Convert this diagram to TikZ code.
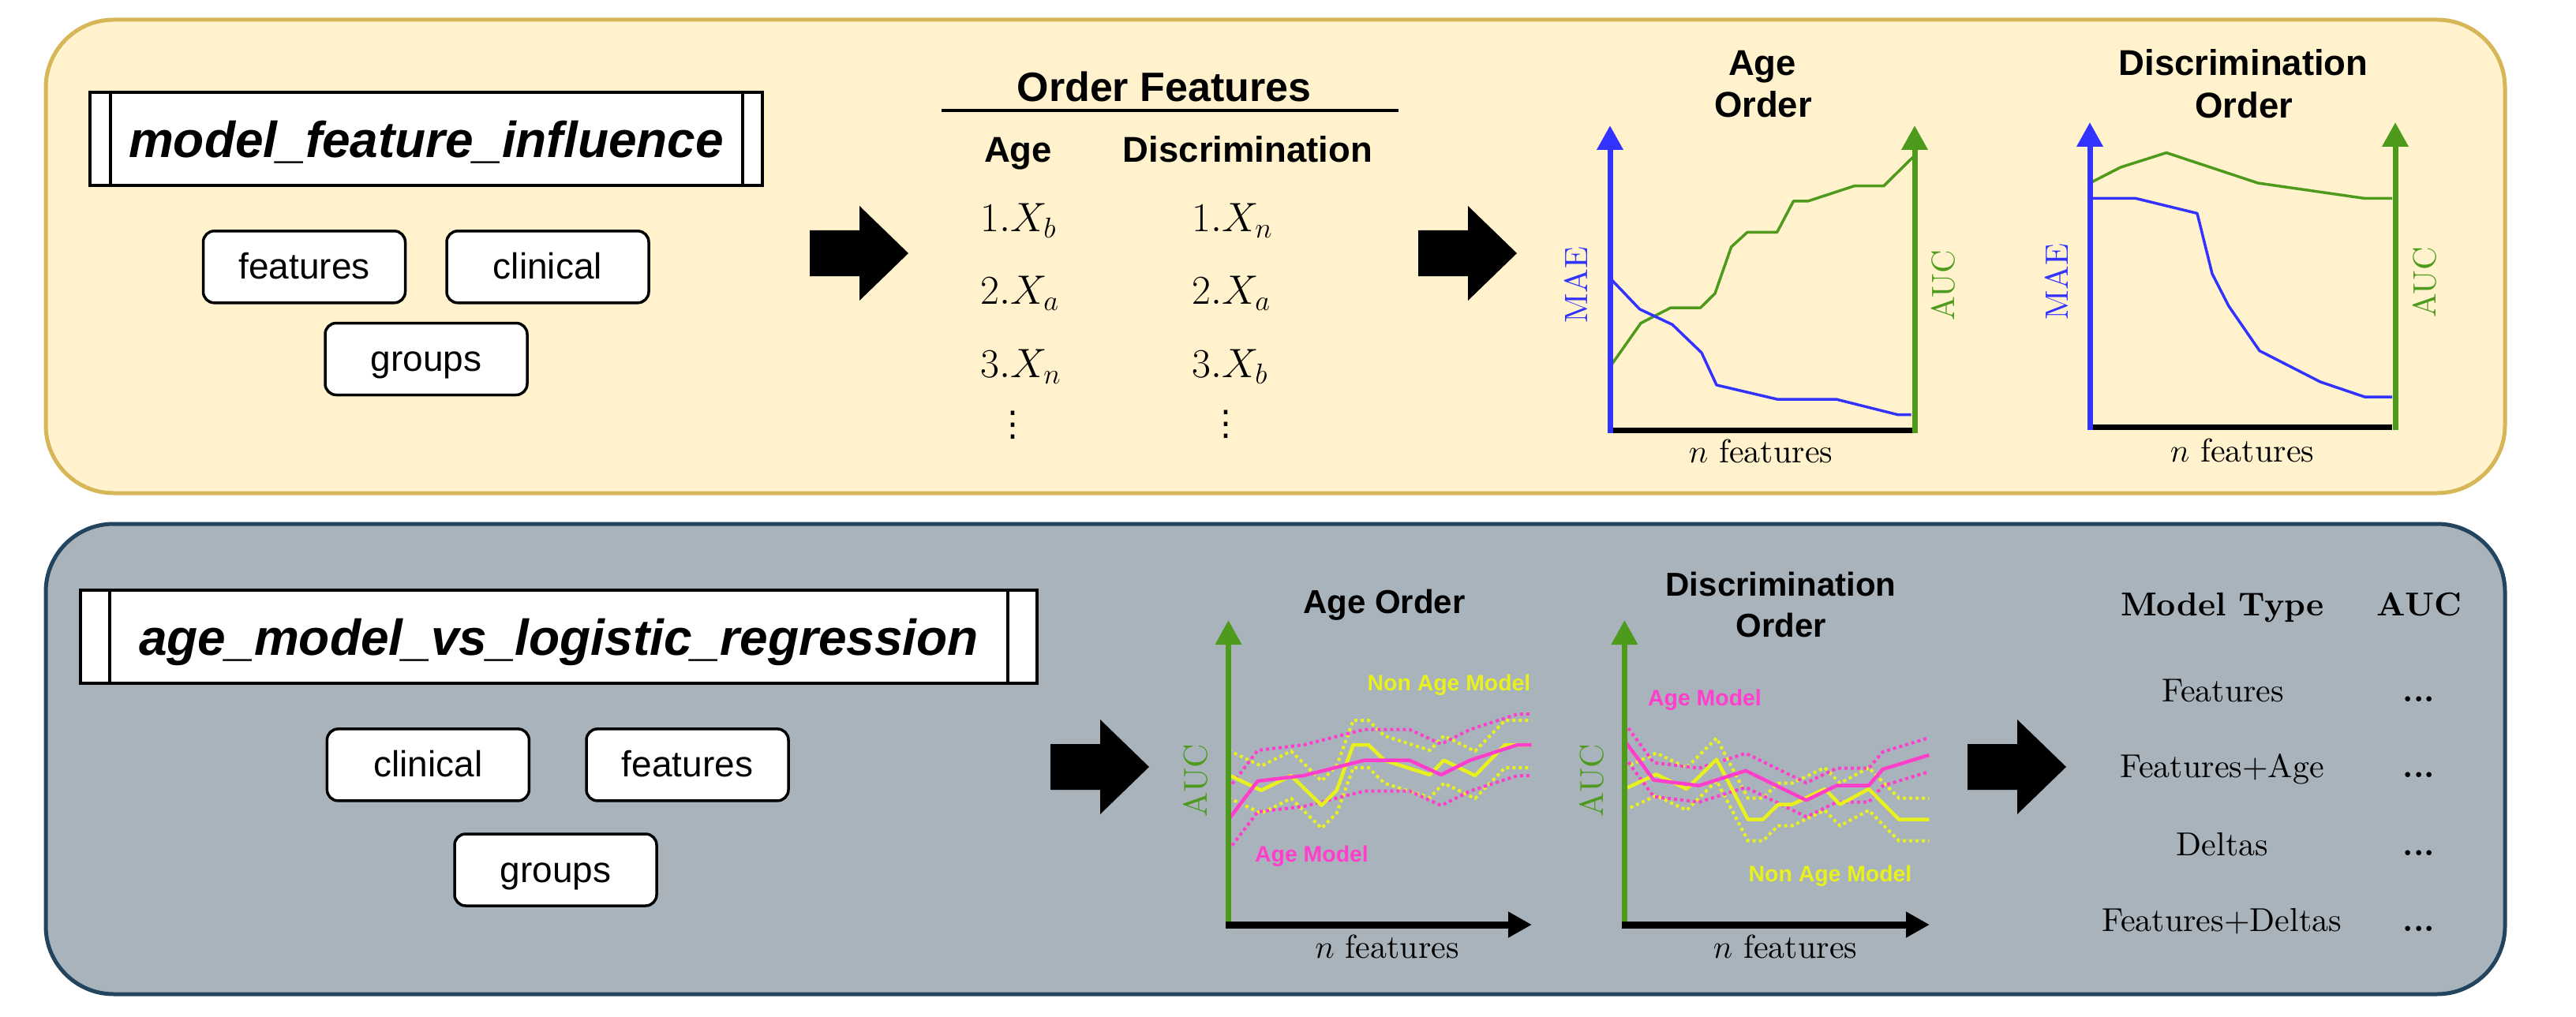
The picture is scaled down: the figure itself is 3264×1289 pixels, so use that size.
\documentclass[tikz,border=0pt]{standalone}
\usepackage{fix-cm}
\usepackage{fontspec}
\setmainfont{lmroman10-regular.otf}[BoldFont=lmroman10-bold.otf, ItalicFont=lmroman10-italic.otf, BoldItalicFont=lmroman10-bolditalic.otf]
\newfontfamily\arial{Liberation Sans}
\newfontfamily\djv{DejaVu Sans}
\usetikzlibrary{arrows.meta}
\definecolor{topfill}{HTML}{FFF2CC}
\definecolor{topdraw}{HTML}{D6B656}
\definecolor{botfill}{HTML}{A8B3BC}
\definecolor{botdraw}{HTML}{23445D}
\definecolor{cblue}{HTML}{3333FF}
\definecolor{cgreen}{HTML}{4D9A1C}
\definecolor{cyel}{HTML}{E8F01E}
\definecolor{cpink}{HTML}{FF3FCC}
\newcommand\myfs[1]{\fontsize{#1}{#1}\selectfont}
\newcommand\blkarrow[2]{%
  \fill[black] (#1,#2-29) -- (#1+63,#2-29) -- (#1+63,#2-60) -- (#1+125,#2)
    -- (#1+63,#2+60) -- (#1+63,#2+29) -- (#1,#2+29) -- cycle;}
\tikzset{
  panel/.style={rounded corners=86pt, line width=5pt},
  procbox/.style={draw, line width=4pt, fill=white, minimum height=118pt,
    inner sep=0pt, text depth=2pt, font=\arial\bfseries\itshape\myfs{64}},
  inbox/.style={draw, line width=3.5pt, fill=white, rounded corners=14pt,
    minimum width=256pt, minimum height=91pt, inner sep=0pt,
    text height=33pt, text depth=2pt, font=\arial\myfs{46}},
  sansb/.style={font=\arial\bfseries\myfs{#1}, anchor=base, inner sep=0pt},
  serif/.style={font=\myfs{#1}, anchor=base, inner sep=0pt},
  mathrow/.style={font=\myfs{52}, anchor=base west, inner sep=0pt},
  vlabel/.style={rotate=90, font=\myfs{41}, inner sep=0pt},
  axisup/.style={line width=7pt, -{Triangle[width=32pt,length=31pt]}},
  axisright/.style={line width=9pt, -{Triangle[width=31pt,length=30pt]}},
  curve/.style={line width=3.5pt, line join=round},
  dotc/.style={line width=4pt, dash pattern=on 4pt off 4pt},
  solidc/.style={line width=4.5pt, line join=round},
  vdotsn/.style={font=\djv\myfs{44}, inner sep=0pt},
  legend/.style={font=\arial\bfseries\myfs{28.4}, inner sep=0pt}
}
\begin{document}
\begin{tikzpicture}[x=1pt,y=-1pt]
\useasboundingbox (0,0) rectangle (3264,1289);

% ---------- panels ----------
\draw[panel, draw=topdraw, fill=topfill] (58,25) rectangle (3174,625);
\draw[panel, draw=botdraw, fill=botfill] (58,664) rectangle (3174,1260);

% ---------- top panel: left ----------
\node[procbox, minimum width=852pt, text height=50pt] (mfi) at (540,176) {model\_feature\_influence};
\draw[line width=4pt] ([xshift=28pt]mfi.north west) -- ([xshift=28pt]mfi.south west);
\draw[line width=4pt] ([xshift=-27pt]mfi.north east) -- ([xshift=-27pt]mfi.south east);
\node[inbox] (tfeat) at (385.5,338.3) {features};
\node[inbox] (tclin) at (694,338.3) {clinical};
\node[inbox] (tgrp) at (540,455) {groups};

\blkarrow{1026}{321}

% ---------- order features ----------
\node[sansb=52] (ordf) at (1475,129) {Order Features};
\draw[line width=3.5pt] (1193,140) coordinate (ul1) -- (1772,140) coordinate (ul2);
\node[sansb=45.5] (hage) at (1290,206) {Age};
\node[sansb=45.5] (hdis) at (1581,206) {Discrimination};
\node[mathrow] (a1) at (1242,294) {$1.X_b$};
\node[mathrow] (a2) at (1242,385.4) {$2.X_a$};
\node[mathrow] (a3) at (1242,478.4) {$3.X_n$};
\node[mathrow] (d1) at (1510,294) {$1.X_n$};
\node[mathrow] (d2) at (1510,385.4) {$2.X_a$};
\node[mathrow] (d3) at (1510,478.4) {$3.X_b$};
\node[vdotsn] (av) at (1283,539) {⋮};
\node[vdotsn] (dv) at (1553,538) {⋮};

\blkarrow{1797}{321}

% ---------- chart 1: Age Order ----------
\node[sansb=45.5] (c1t1) at (2233,95.4) {Age};
\node[sansb=45.5] (c1t2) at (2234,149) {Order};
\draw[curve, cgreen] (2040,465) -- (2079,409.6) -- (2117,390) -- (2154.7,390) -- (2173,372) -- (2193.6,313) -- (2214,294.3) -- (2251.7,294.3) -- (2272.4,255) -- (2290.6,255) -- (2349.5,235.7) -- (2386.8,235.7) -- (2424,199);
\draw[curve, cblue] (2040,352.5) -- (2077.5,391.8) -- (2119,411.4) -- (2156,447) -- (2175,488) -- (2251.7,506) -- (2326.3,506) -- (2405,525.7) -- (2421.6,525.7);
\draw[line width=7pt] (2040,545.5) -- (2424,545.5);
\draw[axisup, cblue] (2040,549) -- (2040,159);
\draw[axisup, cgreen] (2426,549) -- (2426,159);
\node[vlabel, text=cblue] (mae1) at (1997,361) {MAE};
\node[vlabel, text=cgreen] (auc1) at (2462,362) {AUC};
\node[serif=42] (nf1) at (2231,586) {$n$ features};

% ---------- chart 2: Discrimination Order ----------
\node[sansb=45.5] (c2t1) at (2842.5,95.4) {Discrimination};
\node[sansb=45.5] (c2t2) at (2843.5,150) {Order};
\draw[curve, cgreen] (2648,232) -- (2687,212) -- (2745,193.6) -- (2861,232) -- (2996,251.4) -- (3031,251.4);
\draw[curve, cblue] (2648,251.4) -- (2706,251.4) -- (2784,270.4) -- (2803,347) -- (2824,388) -- (2863,444.6) -- (2940,484) -- (2996,503) -- (3031,503);
\draw[line width=7pt] (2648,541) -- (3031,541);
\draw[axisup, cblue] (2648,545) -- (2648,155);
\draw[axisup, cgreen] (3035,545) -- (3035,155);
\node[vlabel, text=cblue] (mae2) at (2606,357) {MAE};
\node[vlabel, text=cgreen] (auc2) at (3072,358) {AUC};
\node[serif=42] (nf2) at (2841,585) {$n$ features};

% ---------- bottom panel: left ----------
\node[procbox, minimum width=1212pt, text height=48pt] (amlr) at (708,807) {age\_model\_vs\_logistic\_regression};
\draw[line width=4pt] ([xshift=39pt]amlr.north west) -- ([xshift=39pt]amlr.south west);
\draw[line width=4pt] ([xshift=-39pt]amlr.north east) -- ([xshift=-39pt]amlr.south east);
\node[inbox] (bclin) at (542.4,969.4) {clinical};
\node[inbox] (bfeat) at (871,969.4) {features};
\node[inbox] (bgrp) at (704,1102.5) {groups};

\blkarrow{1331}{972}

% ---------- chart 3: Age Order ----------
\node[sansb=42] (c3t) at (1754,777.7) {Age Order};
\foreach \dy in {-31,29}{
  \begin{scope}[shift={(0,\dy)}]
  \draw[dotc, cyel] (1556.5,982) -- (1598,1001.8) -- (1636,983) -- (1674.5,1020.7) -- (1693.6,1001.8) -- (1714.7,944) -- (1734,944) -- (1754,963.6) -- (1811.6,982) -- (1829.5,963.6) -- (1869,983) -- (1907,944) -- (1940.5,944);
  \end{scope}}
\foreach \dy in {-39,39}{
  \begin{scope}[shift={(0,\dy)}]
  \draw[dotc, cpink] (1556.5,1039) -- (1593.5,990) -- (1652,983) -- (1728.7,963.6) -- (1786,963.6) -- (1826,982) -- (1862.7,963.6) -- (1923,944) -- (1940.5,944);
  \end{scope}}
\draw[solidc, cyel] (1556.5,982) -- (1598,1001.8) -- (1636,983) -- (1674.5,1020.7) -- (1693.6,1001.8) -- (1714.7,944) -- (1734,944) -- (1754,963.6) -- (1811.6,982) -- (1829.5,963.6) -- (1869,983) -- (1907,944) -- (1940.5,944);
\draw[solidc, cpink] (1556.5,1039) -- (1593.5,990) -- (1652,983) -- (1728.7,963.6) -- (1786,963.6) -- (1826,982) -- (1862.7,963.6) -- (1923,944) -- (1940.5,944);
\draw[axisup, cgreen] (1556.5,1177) -- (1556.5,786);
\draw[axisright, black] (1553,1172) -- (1941,1172);
\node[vlabel, text=cgreen, font=\myfs{42}] (auc3) at (1514.6,989) {AUC};
\node[serif=42] (nf3) at (1757.5,1214) {$n$ features};
\node[legend, text=cyel] (nam3) at (1836,868) {Non Age Model};
\node[legend, text=cpink] (am3) at (1662,1085) {Age Model};

% ---------- chart 4: Discrimination Order ----------
\node[sansb=42] (c4t1) at (2256.5,755.7) {Discrimination};
\node[sansb=42] (c4t2) at (2256.5,807.3) {Order};
\foreach \dy in {-27,27}{
  \begin{scope}[shift={(0,\dy)}]
  \draw[dotc, cyel] (2058.4,1000) -- (2098.6,981.4) -- (2137,1000) -- (2175,962.5) -- (2214.7,1038.6) -- (2233.8,1038.6) -- (2253,1019.6) -- (2270.8,1019.6) -- (2312,1000) -- (2331.4,1019.6) -- (2367.8,1000) -- (2406,1038.6) -- (2444.3,1038.6);
  \end{scope}}
\foreach \dy in {-22,21}{
  \begin{scope}[shift={(0,\dy)}]
  \draw[dotc, cpink] (2058.4,938.6) -- (2095.4,988.6) -- (2152.8,995.7) -- (2212,976.8) -- (2288.7,1014.3) -- (2327,995.7) -- (2367.8,995.7) -- (2385.6,975) -- (2444.3,957);
  \end{scope}}
\draw[solidc, cyel] (2058.4,1000) -- (2098.6,981.4) -- (2137,1000) -- (2175,962.5) -- (2214.7,1038.6) -- (2233.8,1038.6) -- (2253,1019.6) -- (2270.8,1019.6) -- (2312,1000) -- (2331.4,1019.6) -- (2367.8,1000) -- (2406,1038.6) -- (2444.3,1038.6);
\draw[solidc, cpink] (2058.4,938.6) -- (2095.4,988.6) -- (2152.8,995.7) -- (2212,976.8) -- (2288.7,1014.3) -- (2327,995.7) -- (2367.8,995.7) -- (2385.6,975) -- (2444.3,957);
\draw[axisup, cgreen] (2058.4,1177) -- (2058.4,786);
\draw[axisright, black] (2055,1172) -- (2445,1172);
\node[vlabel, text=cgreen, font=\myfs{42}] (auc4) at (2016.7,989) {AUC};
\node[serif=42] (nf4) at (2262,1214) {$n$ features};
\node[legend, text=cpink] (am4) at (2160,887) {Age Model};
\node[legend, text=cyel] (nam4) at (2319,1110) {Non Age Model};

\blkarrow{2493}{972}

% ---------- table ----------
\node[serif=42, font=\bfseries\myfs{42}] (mt) at (2816,780) {Model Type};
\node[serif=42, font=\bfseries\myfs{42}] (mauc) at (3065.5,780) {AUC};
\node[serif=42] (r1) at (2816.6,889) {Features};
\node[serif=42] (r2) at (2815.7,985.7) {Features+Age};
\node[serif=42] (r3) at (2816,1084) {Deltas};
\node[serif=42] (r4) at (2815,1180) {Features+Deltas};
\node[serif=42, font=\bfseries\myfs{42}] (v1) at (3065,889) {...};
\node[serif=42, font=\bfseries\myfs{42}] (v2) at (3065,985.7) {...};
\node[serif=42, font=\bfseries\myfs{42}] (v3) at (3065,1084) {...};
\node[serif=42, font=\bfseries\myfs{42}] (v4) at (3065,1180) {...};
\end{tikzpicture}
\end{document}
